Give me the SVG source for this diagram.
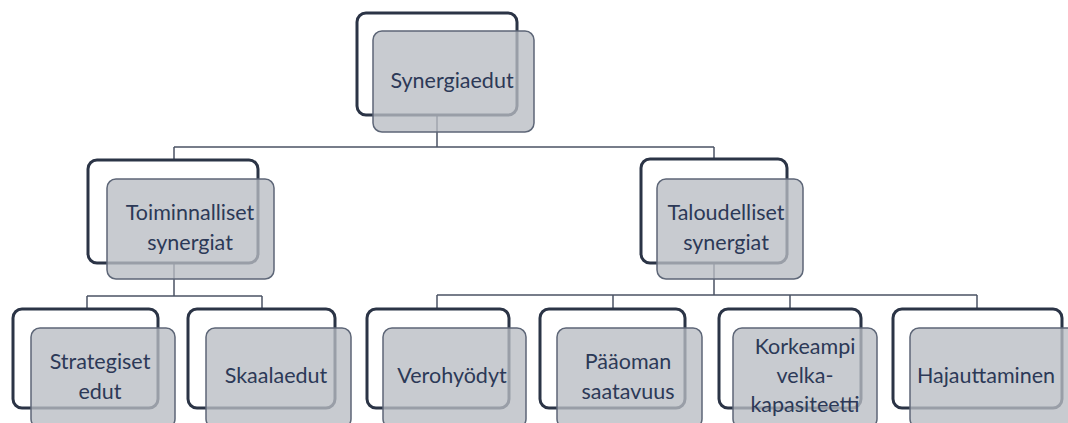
<svg xmlns="http://www.w3.org/2000/svg" width="1068" height="423" viewBox="0 0 1068 423">
<style>
.back{fill:#ffffff;stroke:#2b3446;stroke-width:3}
.front{fill:#b9bdc3;fill-opacity:0.78;stroke:#5d6677;stroke-width:1.5}
.conn{fill:none;stroke:#4b5364;stroke-width:1.5}
text{font-family:Lato,"Open Sans","Liberation Sans",sans-serif;font-size:21.5px;fill:#2c3957;text-anchor:middle}
</style>
<rect width="1068" height="423" fill="#ffffff"/>
<g id="connectors">
<path class="conn" d="M437 115V147M174 147H714M174 147V161M714 147V160"/>
<path class="conn" d="M174 263V296M87 296H262M87 296V309M262 296V309"/>
<path class="conn" d="M714 263V295M437 295H977M437 295V309M613 295V309M790 295V309M977 295V309"/>
</g>
<g id="n-synergiaedut">
<rect class="back" x="357" y="13" width="160" height="102" rx="9"/>
<rect class="front" x="373" y="31" width="161" height="101" rx="9"/>
<text x="452" y="88">Synergiaedut</text>
</g>
<g id="n-toiminnalliset">
<rect class="back" x="88" y="160" width="170" height="103" rx="9"/>
<rect class="front" x="107" y="179" width="167" height="100" rx="9"/>
<text x="190" y="220">Toiminnalliset</text>
<text x="190" y="250">synergiat</text>
</g>
<g id="n-taloudelliset">
<rect class="back" x="641" y="159" width="146" height="104" rx="9"/>
<rect class="front" x="657" y="179" width="146" height="100" rx="9"/>
<text x="726" y="220">Taloudelliset</text>
<text x="726" y="250">synergiat</text>
</g>
<g id="n-strategiset">
<rect class="back" x="13" y="309" width="145" height="99" rx="9"/>
<rect class="front" x="31" y="328" width="144" height="100" rx="9"/>
<text x="100" y="369">Strategiset</text>
<text x="100" y="399">edut</text>
</g>
<g id="n-skaalaedut">
<rect class="back" x="188" y="309" width="147" height="99" rx="9"/>
<rect class="front" x="206" y="328" width="145" height="100" rx="9"/>
<text x="276" y="383">Skaalaedut</text>
</g>
<g id="n-verohyodyt">
<rect class="back" x="367" y="309" width="142" height="99" rx="9"/>
<rect class="front" x="383" y="328" width="143" height="100" rx="9"/>
<text x="452" y="383">Verohyödyt</text>
</g>
<g id="n-paaoman">
<rect class="back" x="540" y="309" width="145" height="99" rx="9"/>
<rect class="front" x="557" y="328" width="145" height="100" rx="9"/>
<text x="628" y="369">Pääoman</text>
<text x="628" y="399">saatavuus</text>
</g>
<g id="n-korkeampi">
<rect class="back" x="719" y="309" width="142" height="99" rx="9"/>
<rect class="front" x="733" y="328" width="144" height="100" rx="9"/>
<text x="805" y="354">Korkeampi</text>
<text x="805" y="383">velka-</text>
<text x="805" y="412">kapasiteetti</text>
</g>
<g id="n-hajauttaminen">
<rect class="back" x="893" y="309" width="169" height="99" rx="9"/>
<rect class="front" x="910" y="328" width="170" height="100" rx="9"/>
<text x="986" y="383">Hajauttaminen</text>
</g>
</svg>
